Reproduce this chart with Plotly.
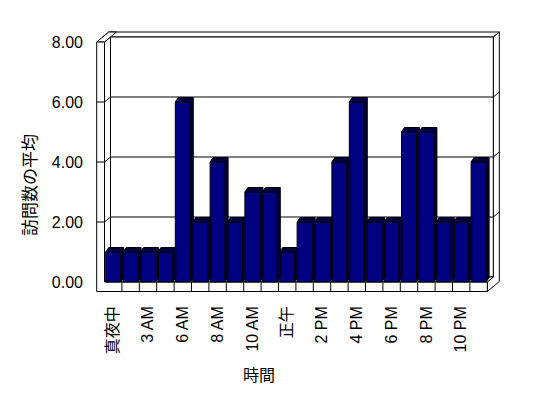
import plotly.graph_objects as go

# ---- data ----
categories = ["真夜中", "1 AM", "3 AM", "4 AM", "6 AM", "7 AM", "8 AM", "9 AM",
              "10 AM", "11 AM", "正午", "1 PM", "2 PM", "3 PM", "4 PM", "5 PM",
              "6 PM", "7 PM", "8 PM", "9 PM", "10 PM", "11 PM"]
values = [1, 1, 1, 1, 6, 2, 4, 2, 3, 3, 1, 2, 2, 4, 6, 2, 2, 5, 5, 2, 2, 4]
y_ticks = [0, 2, 4, 6, 8]
x_title = "時間"
y_title = "訪問数の平均"

# ---- geometry (page body has an 8px margin; compensate) ----
OFF = 8
W, H = 548, 398
L_M, T_M = 92 - OFF, 20 - OFF
R_M = W - (504 - OFF)
B_M = H - (296 - OFF)
PW, PH = W - L_M - R_M, H - T_M - B_M
PX_X = 17.4      # px per category slot
PX_Y = 30.0      # px per value unit
X_ZERO_PX = 113.2 - OFF
Y_ZERO_PX = 282.0 - OFF

xmin = -(X_ZERO_PX - L_M) / PX_X
xmax = xmin + PW / PX_X
ymax = (Y_ZERO_PX - T_M) / PX_Y
ymin = ymax - PH / PX_Y


def paper_x(px):
    return (px - OFF - L_M) / PW


def paper_y(py):
    return 1 - (py - OFF - T_M) / PH


n = len(values)
idx = list(range(n))
x0, x1 = -0.5, n - 0.5
ytop = max(y_ticks)
dx, dy = 6 / PX_X, 5 / PX_Y          # wall depth
tx, ty = 7.8 / PX_X, 9.5 / PX_Y       # wall / floor thickness
bw = 15 / PX_X                         # bar width
bdx, bdy = 3 / PX_X, 4.5 / PX_Y        # bar depth

shapes = []


def poly(pts, fill="white"):
    path = "M " + " L ".join(f"{x:.4f},{y:.4f}" for x, y in pts) + " Z"
    shapes.append(dict(type="path", path=path, xref="x", yref="y", layer="below",
                       fillcolor=fill, line=dict(color="black", width=1)))


def seg(a, b):
    shapes.append(dict(type="line", x0=a[0], y0=a[1], x1=b[0], y1=b[1], xref="x", yref="y",
                       layer="below", line=dict(color="black", width=1)))


# back wall top face
poly([(x0 - tx + dx, ytop + dy), (x1 + dx, ytop + dy), (x1 + 2 * dx, ytop + 2 * dy),
      (x0 - tx + 2 * dx, ytop + 2 * dy)])
# right side faces (floor + back wall)
poly([(x1, -ty), (x1 + 2 * dx, -ty + 2 * dy), (x1 + 2 * dx, ytop + 2 * dy),
      (x1 + dx, ytop + dy), (x1 + dx, dy), (x1, 0)])
# back wall inner face
poly([(x0 + dx, dy), (x1 + dx, dy), (x1 + dx, ytop + dy), (x0 + dx, ytop + dy)])
# floor top face
poly([(x0, 0), (x1, 0), (x1 + dx, dy), (x0 + dx, dy)])
# left wall inner face
poly([(x0, 0), (x0 + dx, dy), (x0 + dx, ytop + dy), (x0, ytop)])
# left wall top face
poly([(x0 - tx, ytop), (x0, ytop), (x0 + 2 * dx, ytop + 2 * dy), (x0 - tx + 2 * dx, ytop + 2 * dy)])
# front L face (left wall + floor slab)
poly([(x0 - tx, -ty), (x1, -ty), (x1, 0), (x0, 0), (x0, ytop), (x0 - tx, ytop)])

# gridlines
for g in y_ticks[1:-1]:
    seg((x0 - tx, g), (x0, g))
    seg((x0, g), (x0 + dx, g + dy))
    seg((x0 + dx, g + dy), (x1 + dx, g + dy))
    seg((x1 + dx, g + dy), (x1 + 2 * dx, g + 2 * dy))
# floor slab dividers
for i in range(1, n):
    seg((i - 0.5, -ty), (i - 0.5, 0))

# bar side/top faces
sx, sy = [], []
for i, v in zip(idx, values):
    xl, xr = i - bw / 2, i + bw / 2
    sx += [xr, xr + bdx, xr + bdx, xl + bdx, xl, xr, xr, None]
    sy += [0, bdy, v + bdy, v + bdy, v, v, 0, None]

fig = go.Figure()
fig.add_trace(go.Scatter(x=sx, y=sy, mode="lines", fill="toself", fillcolor="#000040",
                         line=dict(color="black", width=1), hoverinfo="skip", showlegend=False))
fig.add_trace(go.Bar(x=idx, y=values, width=bw,
                     marker=dict(color="#000080", line=dict(color="black", width=1)),
                     showlegend=False, hoverinfo="skip"))

font_fam = "Liberation Sans, Arial, Noto Sans CJK JP, sans-serif"
fig.update_layout(
    width=W, height=H,
    margin=dict(l=L_M, r=R_M, t=T_M, b=B_M, autoexpand=False),
    paper_bgcolor="white", plot_bgcolor="white",
    shapes=shapes,
    font=dict(family=font_fam, color="black", size=16),
    xaxis=dict(range=[xmin, xmax], tickmode="array", tickvals=idx[::2], ticktext=categories[::2],
               tickangle=-90, showgrid=False, zeroline=False, showline=False, ticks="",
               ticklabelstandoff=6, tickfont=dict(color="black", size=16)),
    yaxis=dict(range=[ymin, ymax], tickmode="array", tickvals=y_ticks,
               ticktext=[f"{v:.2f}" for v in y_ticks],
               showgrid=False, zeroline=False, showline=False, ticks="",
               ticklabelstandoff=8, tickfont=dict(color="black", size=16)),
    annotations=[
        dict(text=x_title, xref="paper", yref="paper", x=paper_x(259), y=paper_y(375.5),
             xanchor="center", yanchor="middle", showarrow=False, font=dict(size=16)),
        dict(text=y_title, xref="paper", yref="paper", x=paper_x(30), y=paper_y(185),
             xanchor="center", yanchor="middle", textangle=-90, showarrow=False,
             font=dict(size=17)),
    ],
)

fig.write_html("out.html")
